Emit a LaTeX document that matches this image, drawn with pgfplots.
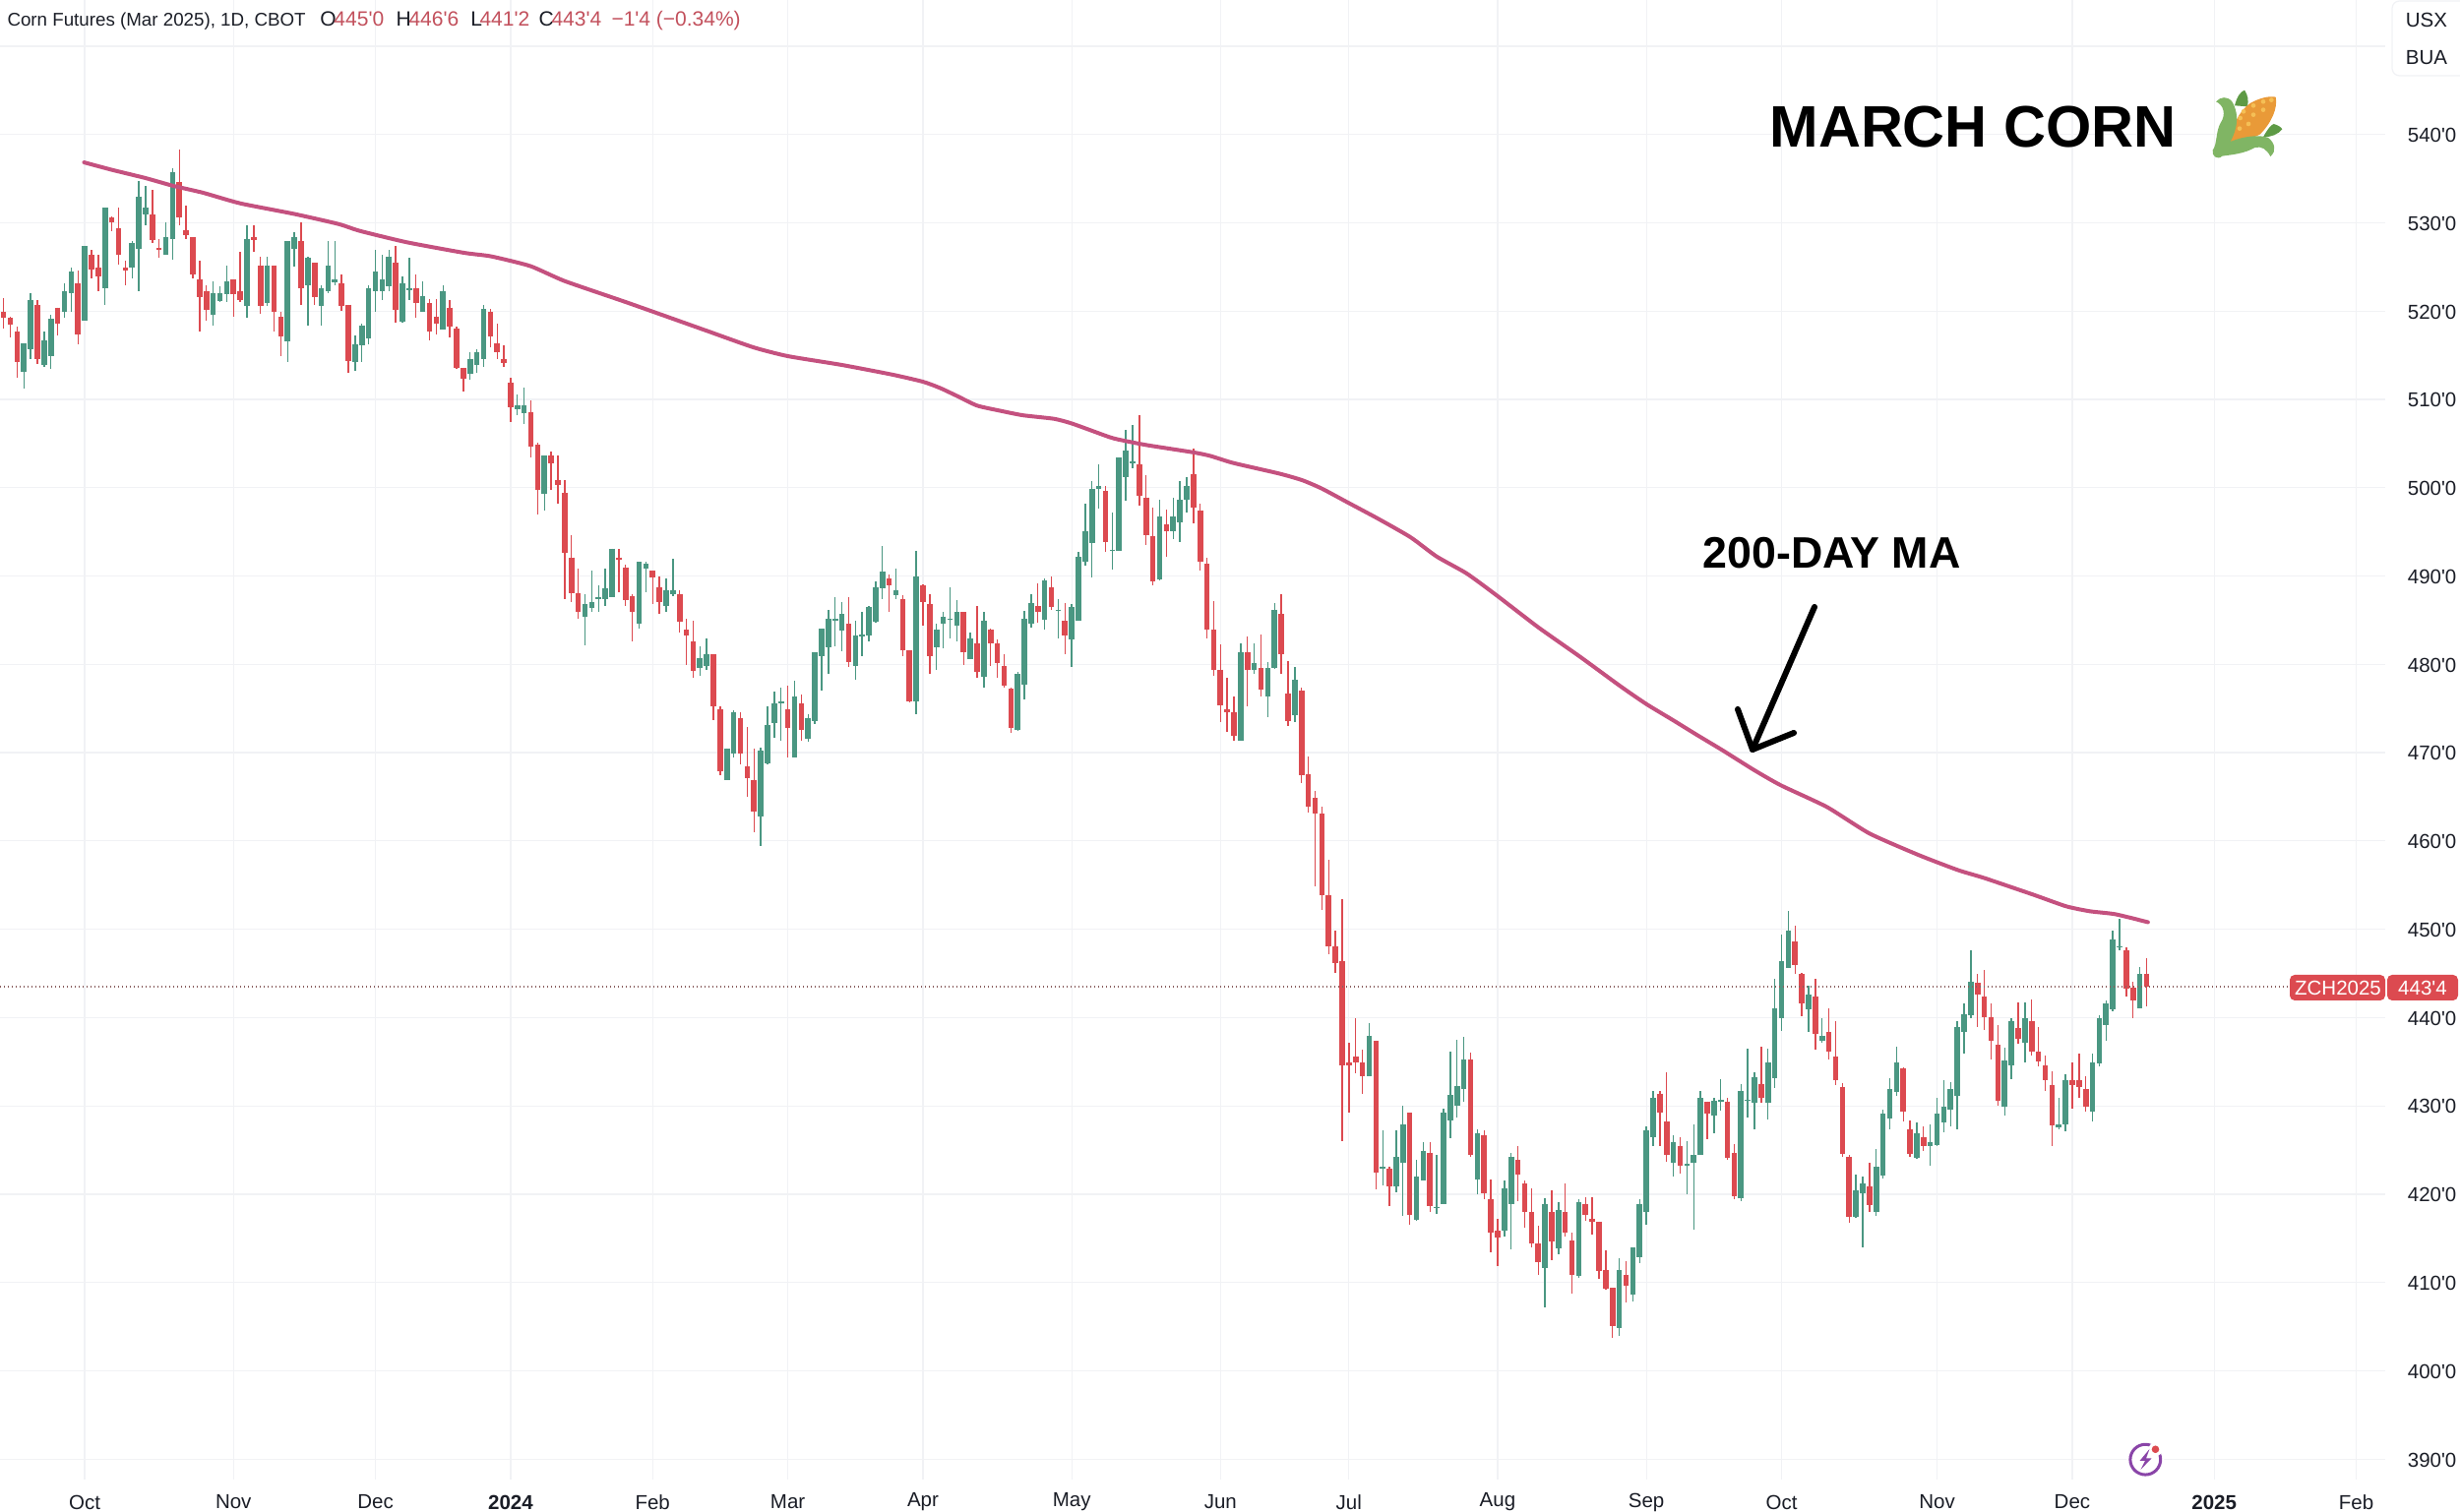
\documentclass[border=0pt]{standalone}
\usepackage{fontspec}
\setmainfont{Liberation Sans}[Ligatures=TeXOff]
\usepackage{pgfplots}
\usepackage{pgfplotstable}
\pgfplotsset{compat=1.18}
\definecolor{upc}{HTML}{4A9782}
\definecolor{downc}{HTML}{DC4A50}
\definecolor{mac}{HTML}{C4517F}
\definecolor{gridc}{HTML}{F1F2F5}
\definecolor{inkc}{HTML}{1A1D26}
\definecolor{valc}{HTML}{C2505C}
\definecolor{dotc}{HTML}{8A5F5F}
\definecolor{boltc}{HTML}{8A45A8}
\definecolor{cornleaf}{HTML}{5E9A45}
\definecolor{cornhusk}{HTML}{80B564}
\definecolor{cornbody}{HTML}{E99A38}
\definecolor{cornseed}{HTML}{F5BF55}

% columns: trading-day index, high, body top, body bottom, low
\pgfplotstableread{
i hi top bot lo
3 516.4 516.4 513.1 511.2
4 522.0 521.2 515.7 514.6
6 517.7 516.7 513.9 513.7
7 519.6 519.1 514.9 513.5
9 523.2 522.2 519.9 519.2
10 524.9 524.5 522.0 519.9
12 527.4 527.4 518.9 518.9
15 531.7 531.7 522.6 520.7
19 527.9 527.7 524.9 523.7
20 534.7 533.0 527.1 522.3
21 534.2 531.7 530.9 529.7
24 530.0 528.4 526.4 526.4
25 536.2 535.7 528.2 525.8
31 523.4 522.0 519.6 518.4
32 522.8 522.0 521.1 521.0
33 525.2 523.4 521.9 521.0
36 529.7 528.2 520.6 519.2
39 526.2 525.2 520.9 520.6
42 527.9 527.9 516.6 514.2
43 528.9 528.4 527.1 525.0
45 526.2 526.0 522.9 518.4
47 522.9 522.6 520.6 518.4
48 527.9 525.2 522.3 522.0
49 527.9 523.6 523.3 522.9
52 517.2 516.2 514.2 513.2
53 518.6 518.4 516.1 514.2
54 522.9 522.6 516.9 516.2
55 526.9 524.5 522.2 519.9
56 526.4 523.6 522.2 521.2
57 526.9 526.2 522.8 522.3
59 523.9 523.2 518.8 518.7
60 526.0 522.6 522.4 521.2
62 523.4 521.7 519.9 519.9
65 522.9 522.2 517.9 517.9
69 515.4 514.6 512.9 512.2
70 515.7 515.4 513.9 513.0
71 520.7 520.2 514.6 513.7
76 510.6 509.3 508.9 508.2
77 511.3 509.3 508.4 507.2
80 503.6 503.6 499.3 497.4
86 487.9 486.8 485.4 482.2
87 490.6 487.1 486.4 485.9
88 488.9 487.6 487.4 485.9
89 490.8 488.6 487.4 486.6
90 493.1 493.1 487.6 487.6
94 491.6 491.6 484.6 484.1
95 491.6 491.4 490.8 488.2
98 489.7 488.4 486.6 485.9
99 491.9 488.4 487.9 487.7
103 482.0 480.7 479.6 478.7
104 482.9 481.1 479.8 479.4
107 470.5 470.5 466.9 466.9
108 474.8 474.6 469.9 469.5
112 470.6 470.2 462.8 459.4
113 475.3 473.1 468.8 468.7
114 476.9 475.6 473.4 471.7
115 477.4 475.8 475.6 471.4
117 478.1 476.4 469.4 469.4
119 474.4 473.9 471.6 471.2
120 481.4 481.4 473.6 473.2
121 484.1 484.1 480.9 477.0
122 486.2 485.2 481.9 478.9
123 487.6 485.2 484.9 482.0
124 487.1 485.7 483.8 481.5
126 484.9 483.3 479.8 478.2
127 485.9 483.4 483.1 480.9
128 486.6 486.5 483.3 482.6
129 489.4 488.7 484.8 484.7
130 493.4 490.5 488.6 487.4
132 490.8 488.4 487.8 487.4
135 492.9 489.9 475.8 474.3
138 484.6 483.9 481.9 479.4
139 485.9 485.4 484.6 481.8
140 488.7 485.2 485.1 482.9
141 487.3 485.9 484.4 482.6
143 483.6 482.9 480.6 480.6
145 485.9 484.9 478.6 477.4
150 479.1 478.9 472.6 472.5
151 486.0 485.2 477.7 476.0
152 487.9 486.9 484.6 484.2
154 489.7 489.5 485.1 483.9
156 487.4 486.2 486.0 482.9
158 486.8 486.5 482.8 479.7
159 492.7 492.2 484.9 484.9
160 498.2 495.1 491.6 491.2
161 500.7 499.9 493.7 489.8
162 502.6 500.2 499.9 497.6
164 497.2 493.0 492.9 490.7
165 503.4 503.4 492.9 492.9
166 506.5 504.2 501.2 498.5
167 507.1 503.0 502.8 502.2
171 498.6 496.7 489.6 489.5
173 498.9 496.7 495.1 494.2
174 500.7 498.6 496.1 493.8
175 501.2 500.2 498.6 497.2
183 482.4 481.4 471.4 471.4
185 482.4 480.1 479.4 478.9
187 480.3 479.6 476.4 474.0
188 486.9 486.2 479.6 479.5
191 479.7 478.2 474.2 473.5
202 439.4 437.9 433.4 433.4
204 427.2 423.1 422.9 421.0
206 427.2 424.2 420.9 420.2
207 430.0 427.9 423.6 417.5
209 423.9 422.0 417.1 417.0
210 425.9 424.9 421.6 421.5
212 424.4 418.6 418.4 417.8
213 429.7 429.2 418.9 418.9
214 436.2 431.2 428.4 426.3
215 437.5 432.2 430.0 428.7
216 437.8 435.2 431.9 430.5
218 427.4 426.9 421.7 420.0
222 421.5 420.7 415.9 415.2
223 424.7 424.2 418.9 413.8
228 419.6 418.9 411.6 407.2
230 419.1 418.2 413.9 413.2
233 419.4 419.1 410.8 410.5
239 412.7 411.4 404.9 403.9
241 414.0 414.0 408.6 407.9
242 419.4 418.9 412.9 412.2
243 427.7 427.2 418.0 416.5
244 431.7 430.9 426.4 425.5
247 426.7 425.9 423.6 422.0
249 426.0 423.4 423.2 420.0
250 427.9 424.4 423.6 416.0
251 431.7 430.9 424.4 424.4
253 430.9 430.6 428.9 426.9
254 433.0 430.7 430.5 429.5
257 432.5 431.7 419.6 419.2
258 436.5 430.7 430.6 428.7
259 433.8 433.2 430.4 427.4
261 436.5 434.9 430.4 428.5
262 444.4 441.1 433.1 432.0
263 449.4 446.4 439.9 438.5
264 452.1 449.9 445.6 445.6
267 443.6 442.6 440.9 438.4
269 439.9 437.9 437.4 437.1
274 422.2 420.4 417.4 417.3
275 422.0 421.2 420.1 414.0
277 425.1 423.1 418.0 417.5
278 429.6 429.1 422.1 421.8
279 433.1 431.9 428.6 427.4
280 436.7 434.9 431.6 431.1
283 428.1 426.9 424.1 424.0
285 427.9 425.9 425.4 423.2
286 430.9 429.1 425.6 425.5
287 432.9 429.9 428.1 427.0
288 432.7 431.9 429.6 427.7
289 439.6 438.9 431.1 427.4
290 441.6 440.4 438.4 435.9
291 447.6 444.1 440.3 439.9
296 436.6 435.1 429.9 428.9
297 439.9 439.6 434.6 433.0
299 441.7 439.9 437.1 434.9
304 430.9 427.9 427.6 427.4
305 433.6 432.9 427.9 427.1
309 435.9 434.9 429.4 428.2
310 440.3 439.9 434.8 434.5
311 441.9 441.6 439.1 437.4
312 449.9 448.9 440.9 440.7
313 451.2 448.1 447.9 447.6
316 445.7 444.9 441.1 441.1
}\upbars

\pgfplotstableread{
i hi top bot lo
0 521.5 519.9 519.3 518.0
1 519.4 519.2 518.5 517.0
2 518.3 517.7 514.2 512.4
5 521.2 520.7 514.6 514.0
8 520.4 520.4 518.6 517.2
11 524.6 523.1 517.4 516.2
13 526.9 526.4 524.7 523.7
14 526.4 524.9 523.9 522.3
16 530.7 530.6 530.0 529.0
17 531.7 529.4 526.4 525.3
18 525.7 524.9 524.6 522.9
22 533.7 530.9 528.1 527.7
23 528.2 527.2 526.9 526.0
26 538.3 534.6 530.6 529.7
27 531.9 529.2 528.6 528.2
28 528.4 528.4 524.1 523.7
29 525.7 523.6 521.6 517.7
30 522.9 522.2 520.1 518.9
34 523.6 523.6 521.9 519.4
35 526.7 522.2 521.3 521.0
37 529.7 528.4 528.1 526.7
38 526.2 525.2 520.6 519.7
40 525.2 525.2 519.9 517.7
41 519.9 519.4 517.1 514.9
44 530.0 527.9 522.6 520.7
46 525.5 525.5 521.6 520.7
50 524.1 523.1 520.6 520.0
51 520.7 520.7 514.4 513.0
58 527.4 525.5 520.1 518.7
61 524.1 522.6 520.9 519.2
63 521.4 520.9 517.7 516.7
64 521.4 519.4 518.6 517.4
66 521.2 520.4 518.2 517.0
67 518.2 518.0 513.6 513.5
68 513.6 513.6 512.3 510.9
72 520.2 519.9 517.1 515.9
73 518.6 516.4 515.4 514.6
74 516.1 514.6 514.1 513.7
75 512.4 511.9 509.1 507.4
78 509.9 508.6 504.6 503.4
79 505.1 504.9 499.8 497.0
81 504.1 503.6 502.8 499.7
82 503.6 500.9 500.3 498.2
83 500.9 499.4 492.6 487.4
84 494.6 492.1 488.1 487.1
85 490.8 488.1 485.9 485.2
91 493.1 492.1 491.8 488.2
92 491.3 490.9 487.3 486.6
93 487.9 487.7 485.9 482.6
96 490.6 490.6 489.8 486.8
97 489.9 488.7 487.0 485.7
100 488.4 487.9 484.8 483.6
101 485.2 483.9 483.3 479.9
102 484.9 482.6 479.3 478.5
105 481.1 481.1 475.3 473.7
106 475.3 474.9 467.9 467.5
109 474.6 473.9 469.9 468.7
110 472.9 468.4 467.1 465.0
111 470.5 466.9 463.3 461.0
116 477.6 474.9 472.8 469.4
118 476.6 475.6 472.6 471.4
125 487.6 484.6 480.3 479.7
131 490.2 489.7 488.9 485.9
133 487.8 487.4 481.6 480.9
134 481.6 481.6 475.8 475.7
136 489.1 488.9 487.0 484.4
137 487.9 486.8 480.9 478.9
142 485.9 485.9 481.4 479.9
144 486.6 482.4 479.1 478.5
146 484.1 483.9 482.4 479.8
147 482.8 482.4 480.1 478.5
148 481.1 479.8 477.6 477.4
149 477.4 477.2 472.8 472.2
153 489.2 486.6 485.9 484.7
155 490.0 488.7 486.5 486.2
157 486.9 484.9 483.3 481.2
163 500.2 499.6 493.9 492.7
168 508.2 502.6 499.1 498.0
169 501.4 498.9 494.6 493.5
170 497.7 494.5 489.4 489.0
172 497.5 495.9 495.1 492.2
176 504.4 501.5 497.7 496.0
177 498.2 497.4 491.6 490.6
178 492.1 491.4 483.9 482.9
179 487.2 483.9 479.4 478.7
180 482.3 479.4 475.4 473.5
181 478.5 474.9 474.6 472.4
182 476.4 474.6 471.9 471.4
184 483.1 481.4 479.4 475.2
186 483.4 479.6 477.1 476.4
189 487.9 485.7 481.1 478.9
190 480.4 476.7 473.6 473.0
192 477.4 477.0 467.4 466.6
193 469.6 467.6 463.9 463.2
194 465.7 464.9 463.1 454.9
195 463.9 463.1 453.9 452.2
196 457.9 453.9 448.1 447.2
197 449.9 448.1 446.2 445.1
198 453.4 446.4 434.6 426.0
199 437.1 434.9 434.6 429.2
200 439.9 435.6 434.9 433.7
201 436.4 434.9 433.4 431.4
203 437.4 437.4 422.4 420.5
205 423.1 422.9 420.9 418.7
208 429.2 429.2 417.6 416.5
211 425.9 424.7 418.7 418.0
217 436.0 435.2 424.4 424.2
219 427.2 426.7 420.1 419.4
220 421.7 419.4 415.6 413.4
221 417.2 415.9 415.1 411.9
224 425.5 423.9 422.2 419.2
225 421.6 421.2 418.0 416.2
226 420.7 418.0 414.4 414.0
227 416.4 414.4 412.3 410.9
229 420.4 418.0 414.7 412.5
231 421.2 418.0 415.6 415.2
232 415.6 414.8 410.9 408.7
234 419.7 418.9 417.6 417.0
235 419.7 417.2 416.9 415.4
236 416.9 416.9 411.3 410.4
237 413.7 411.4 409.3 409.2
238 409.4 409.4 405.1 403.7
240 412.4 410.9 409.6 407.7
245 431.7 431.4 429.2 425.5
246 433.8 428.2 424.4 423.7
248 426.5 425.4 423.2 422.3
252 430.5 430.5 429.1 426.2
255 430.9 430.5 424.1 423.9
256 425.7 424.7 419.8 419.4
260 436.7 432.5 430.9 430.3
265 450.4 448.6 445.9 444.9
266 445.1 444.9 441.6 440.2
268 444.4 442.4 438.2 436.4
270 441.1 438.4 436.1 435.2
271 439.6 435.6 432.9 432.4
272 432.6 432.1 424.6 424.2
273 424.4 424.2 417.4 416.8
276 423.6 420.9 418.8 418.0
281 434.4 434.2 429.4 428.2
282 428.4 427.4 424.6 424.2
284 427.7 426.4 425.4 424.9
292 444.9 443.9 442.6 438.9
293 445.4 442.4 440.1 438.6
294 441.6 440.1 437.4 435.2
295 439.1 436.9 430.6 430.0
298 441.7 438.8 437.6 437.0
300 442.1 439.6 436.1 435.7
301 438.9 436.1 435.0 434.5
302 435.7 434.6 432.9 431.7
303 433.9 432.4 427.8 425.5
306 434.9 432.9 432.4 429.7
307 435.9 432.9 432.1 430.9
308 433.4 431.9 429.9 429.4
314 447.9 447.6 443.3 442.4
315 444.1 443.4 441.9 439.9
317 446.75 445.0 443.5 441.25
}\downbars

\newcommand{\tickfont}{\fontsize{8.2}{10}\selectfont}
\newcommand{\headfont}{\fontsize{7.5}{10}\selectfont}
\newcommand{\valfont}{\fontsize{8.4}{10}\selectfont}

\begin{document}
\begin{tikzpicture}
\useasboundingbox (0,0) rectangle (1000pt,614.8pt);
\begin{axis}[
    at={(0,13.2pt)}, anchor=south west,
    scale only axis,
    width=969.6pt, height=601.6pt,
    xmin=-0.534, xmax=352.3,
    ymin=387.69, ymax=555.23,
    axis line style={draw=none},
    major tick length=0pt,
    grid=major,
    grid style={line width=0.5pt, draw=gridc},
    xtick={12,34,55,75,96,116,136,158,180,199,221,243,263,286,306,327,348},
    xticklabels={Oct,Nov,Dec,\textbf{2024},Feb,Mar,Apr,May,Jun,Jul,Aug,Sep,Oct,Nov,Dec,\textbf{2025},Feb},
    ytick={390,400,...,550},
    yticklabels={390'0,400'0,410'0,420'0,430'0,440'0,450'0,460'0,470'0,480'0,490'0,500'0,510'0,520'0,530'0,540'0,},
    yticklabel pos=right,
    xticklabel style={font=\tickfont, text=inkc, anchor=center, yshift=-9.2pt},
    yticklabel style={font=\tickfont, text=inkc, anchor=west, xshift=5.6pt, yshift=-0.3pt},
]
% wicks
\addplot[draw=none, mark=none, forget plot, error bars/.cd, y dir=both, y explicit, error mark=none,
    error bar style={line width=0.55pt, draw=upc}]
    table[x=i, y=top, y error plus expr=\thisrow{hi}-\thisrow{top}, y error minus expr=\thisrow{top}-\thisrow{lo}] {\upbars};
\addplot[draw=none, mark=none, forget plot, error bars/.cd, y dir=both, y explicit, error mark=none,
    error bar style={line width=0.55pt, draw=downc}]
    table[x=i, y=top, y error plus expr=\thisrow{hi}-\thisrow{top}, y error minus expr=\thisrow{top}-\thisrow{lo}] {\downbars};
% bodies
\addplot[draw=none, mark=none, forget plot, error bars/.cd, y dir=minus, y explicit, error mark=none,
    error bar style={line width=2.25pt, draw=upc}]
    table[x=i, y=top, y error plus expr=0, y error minus expr=\thisrow{top}-\thisrow{bot}] {\upbars};
\addplot[draw=none, mark=none, forget plot, error bars/.cd, y dir=minus, y explicit, error mark=none,
    error bar style={line width=2.25pt, draw=downc}]
    table[x=i, y=top, y error plus expr=0, y error minus expr=\thisrow{top}-\thisrow{bot}] {\downbars};
% last price line
\addplot[dash pattern=on 0.5pt off 1.1pt, line width=0.5pt, draw=dotc] coordinates {(-0.534,443.5) (338.2,443.5)};
% 200-day moving average
\addplot[smooth, tension=0.35, line width=1.6pt, draw=mac, line cap=round] coordinates {
    (11.9,536.84) (16,536.0) (21,535.06) (25,534.2) (29.5,533.4) (35,532.2) (43,531.0)
    (49.6,529.85) (52.6,529.1) (59.6,527.8) (68.1,526.6) (72.1,526.2) (77.9,525.1)
    (83,523.4) (92.3,520.95) (103.9,517.8) (110.9,515.9) (116,514.9) (124,513.9)
    (131.5,512.8) (136,512.0) (138.5,511.3) (141,510.4) (144,509.3) (147.5,508.7)
    (150.8,508.2) (155.4,507.8) (158.1,507.25) (163.7,505.7) (165.9,505.3) (169.3,504.8)
    (176,504.0) (178.5,503.6) (181.9,502.8) (188.7,501.6) (192.1,500.85) (195,499.9)
    (198.9,498.3) (203.3,496.5) (208.1,494.4) (212,492.2) (216.4,490.3) (220.7,487.9)
    (227,484.2) (233.3,480.8) (239.2,477.5) (243,475.5) (246.9,473.7) (250.5,472)
    (254.2,470.3) (259,468) (262.9,466.3) (269.7,463.85) (276,460.85) (283.3,458.4)
    (289.1,456.7) (293,455.8) (300.3,453.9) (305.1,452.6) (308.6,452.04) (312.4,451.7) (317.2,450.8)
};
\end{axis}

% annotations, in reference pixels with y going down
\begin{scope}[shift={(0,614.8pt)}, x=0.4pt, y=-0.4pt]
  % header
  \node[anchor=base west, inner sep=0, text=inkc, font=\headfont] at (7,27) {Corn Futures (Mar 2025), 1D, CBOT};
  \node[anchor=base west, inner sep=0, text=inkc, font=\valfont] at (325,27) {O};
  \node[anchor=base west, inner sep=0, text=valc, font=\valfont] at (339,27) {445'0};
  \node[anchor=base west, inner sep=0, text=inkc, font=\valfont] at (402,27) {H};
  \node[anchor=base west, inner sep=0, text=valc, font=\valfont] at (415,27) {446'6};
  \node[anchor=base west, inner sep=0, text=inkc, font=\valfont] at (478,27) {L};
  \node[anchor=base west, inner sep=0, text=valc, font=\valfont] at (487,27) {441'2};
  \node[anchor=base west, inner sep=0, text=inkc, font=\valfont] at (547,27) {C};
  \node[anchor=base west, inner sep=0, text=valc, font=\valfont] at (560,27) {443'4};
  \node[anchor=base west, inner sep=0, text=valc, font=\valfont] at (621,27) {−1'4 (−0.34\%)};
  % unit box
  \filldraw[draw=gridc, fill=white, line width=0.5pt, rounded corners=3pt] (2431,1) rectangle (2512,77);
  \node[text=inkc, font=\tickfont, inner sep=0] at (2466,20) {USX};
  \node[text=inkc, font=\tickfont, inner sep=0] at (2466,59) {BUA};
  % title and arrow label
  \node[anchor=base west, inner sep=0, font=\fontsize{23.8}{28}\selectfont\bfseries, text=black] at (1798,150) {MARCH CORN};
  \node[anchor=base west, inner sep=0, font=\fontsize{17.9}{21}\selectfont\bfseries, text=black] at (1730,578) {200-DAY MA};
  \draw[line width=2.4pt, line cap=round, line join=round, black] (1844,617) -- (1781,762);
  \draw[line width=2.4pt, line cap=round, line join=round, black] (1766,721) -- (1781,762) -- (1823,745);
  % last price tag
  \fill[downc, rounded corners=2pt] (2327,991) rectangle (2424,1017);
  \fill[downc, rounded corners=2pt] (2426,991) rectangle (2498,1017);
  \node[text=white, font=\tickfont, inner sep=0] at (2376,1004) {ZCH2025};
  \node[text=white, font=\tickfont, inner sep=0] at (2462,1004) {443'4};
  % lightning badge
  \fill[white] (2180.3,1483.7) circle[radius=19];
  \draw[boltc, line width=1.2pt] (2180.3,1483.7) circle[radius=15.4];
  \fill[white] (2190.5,1473.3) circle[radius=7];
  \fill[downc] (2190.5,1473.3) circle[radius=3.8];
  \fill[boltc] (2184.5,1473) -- (2174.5,1485) -- (2180,1485) -- (2175.5,1494) -- (2186.5,1482.5) -- (2181,1482.5) -- cycle;
\end{scope}

% corn emoji, in 3x crop pixels of the reference
\begin{scope}[shift={(840pt,614.8pt)}, x=0.13333pt, y=-0.13333pt]
  \fill[cornleaf] (513,322) .. controls (520,295) and (530,280) .. (543,275) .. controls (553,290) and (556,305) .. (552,325) -- cycle;
  \fill[cornleaf] (600,418) .. controls (612,395) and (625,380) .. (632,378) .. controls (645,382) and (655,388) .. (658,394) .. controls (645,410) and (625,418) .. (600,418) -- cycle;
  \fill[cornbody] (498,432) .. controls (505,385) and (525,340) .. (560,315) .. controls (590,298) and (620,292) .. (638,296) .. controls (645,330) and (625,375) .. (590,410) .. controls (560,425) and (530,430) .. (498,432) -- cycle;
  \foreach \a/\b in {600/310,625/305,570/322,600/335,540/340,570/350,530/360,555/378,528/392}
    \fill[cornseed] (\a,\b) circle[radius=7];
  \fill[cornhusk] (456,310) .. controls (470,295) and (490,292) .. (505,310) .. controls (520,335) and (530,375) .. (500,432) .. controls (540,415) and (590,410) .. (615,420) .. controls (635,435) and (642,460) .. (622,477) .. controls (610,455) and (595,445) .. (575,450) .. controls (540,470) and (500,472) .. (475,476) .. controls (460,490) and (442,475) .. (446,458) .. controls (460,440) and (455,400) .. (470,375) .. controls (487,350) and (480,320) .. (456,310) -- cycle;
\end{scope}
\end{tikzpicture}
\end{document}
